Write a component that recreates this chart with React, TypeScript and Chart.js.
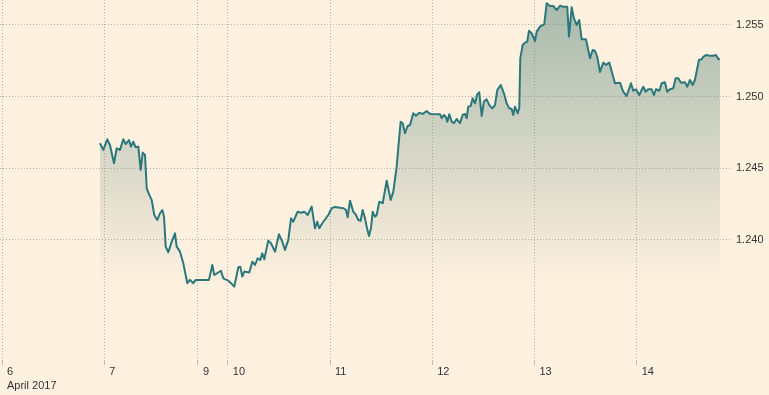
import React, { useEffect, useRef } from "react";
import { Chart, registerables } from "chart.js";

Chart.register(...registerables);

// Trading hours since 6 April 2017 00:00 (weekend closure removed)
const hours = [
  23.0, 23.78, 24.72, 25.35, 26.29, 26.92, 27.7, 28.47, 29.04, 29.81,
  30.28, 30.82, 31.38, 32.0, 32.56, 33.03, 33.57, 33.97, 34.58, 35.14,
  35.75, 36.46, 37.09, 37.63, 38.03, 38.43, 39.04, 39.84, 40.61, 41.01,
  41.78, 42.56, 43.5, 44.13, 44.91, 45.47, 48.59, 49.37, 49.84, 51.41,
  51.95, 53.12, 53.76, 54.53, 55.47, 55.94, 56.41, 56.88, 58.05, 58.76,
  59.39, 60.02, 60.63, 61.1, 61.57, 62.51, 63.14, 64.08, 65.02, 65.8,
  66.43, 67.21, 67.84, 68.38, 69.41, 70.19, 70.96, 71.76, 72.7, 73.47,
  74.01, 74.48, 75.19, 76.6, 77.39, 78.17, 80.12, 80.75, 81.15, 81.69,
  82.46, 83.1, 83.64, 84.2, 84.67, 85.21, 85.61, 86.15, 86.62, 87.02,
  87.56, 87.96, 88.57, 89.37, 90.31, 91.24, 91.86, 92.65, 93.19, 93.59,
  94.06, 94.6, 95.23, 95.77, 96.55, 97.18, 97.96, 98.76, 99.69, 100.47,
  102.82, 103.22, 103.75, 104.22, 104.53, 105.0, 105.56, 106.1, 106.74, 107.51,
  108.14, 108.68, 109.08, 109.46, 110.02, 110.49, 111.03, 111.57, 112.04, 112.61,
  113.14, 113.78, 114.39, 115.09, 115.73, 116.27, 117.07, 117.84, 118.47, 119.08,
  119.65, 120.02, 120.42, 121.06, 121.43, 121.67, 122.23, 122.77, 123.31, 123.71,
  124.34, 125.12, 125.52, 126.29, 127.3, 127.86, 128.64, 129.41, 130.21, 130.98,
  131.76, 132.7, 133.1, 133.73, 134.27, 134.9, 135.51, 136.08, 137.08, 138.03,
  138.66, 139.2, 139.74, 140.37, 141.15, 141.78, 142.56, 143.9, 145.07, 145.84,
  146.64, 147.65, 148.19, 148.83, 149.6, 150.54, 151.1, 151.72, 152.51, 153.05,
  153.52, 154.3, 154.86, 155.63, 156.17, 156.81, 157.58, 158.14, 158.76, 159.39,
  160.33, 160.87, 161.5, 162.13, 162.67, 163.61, 164.25, 164.62, 165.26, 166.19,
  166.97, 167.6, 168.15, 168.54,
];

// Price series
const prices = [
  1.24674, 1.24628, 1.24702, 1.24662, 1.24535, 1.24639, 1.24628, 1.24702, 1.24669, 1.24697,
  1.24651, 1.24685, 1.24646, 1.24651, 1.24488, 1.24609, 1.24593, 1.2436, 1.24314, 1.24279,
  1.24174, 1.24139, 1.24186, 1.24209, 1.24162, 1.23953, 1.23914, 1.23988, 1.24046, 1.23953,
  1.23918, 1.23837, 1.23698, 1.23721, 1.23698, 1.23721, 1.23721, 1.23825, 1.23755, 1.23785,
  1.23732, 1.23716, 1.23698, 1.23674, 1.23809, 1.23813, 1.23744, 1.23779, 1.23772, 1.23848,
  1.23825, 1.23872, 1.2386, 1.23907, 1.23865, 1.23995, 1.23977, 1.23918, 1.24039, 1.23988,
  1.2393, 1.24, 1.24151, 1.24127, 1.24197, 1.2419, 1.24197, 1.24174, 1.24232, 1.24081,
  1.24127, 1.24081, 1.24116, 1.24174, 1.24221, 1.2423, 1.24221, 1.24209, 1.24158, 1.24274,
  1.24197, 1.24174, 1.24139, 1.24134, 1.24209, 1.24151, 1.24092, 1.24028, 1.24081, 1.24197,
  1.24162, 1.24174, 1.24267, 1.24256, 1.24413, 1.24279, 1.24337, 1.24511, 1.24697, 1.24825,
  1.24814, 1.24744, 1.24795, 1.24802, 1.24884, 1.24867, 1.24888, 1.24879, 1.249, 1.24879,
  1.24877, 1.24849, 1.24872, 1.24856, 1.24825, 1.24877, 1.24825, 1.24814, 1.24844, 1.24814,
  1.24872, 1.24879, 1.24849, 1.2493, 1.24935, 1.24988, 1.24953, 1.25016, 1.2503, 1.24865,
  1.24965, 1.24981, 1.24941, 1.24918, 1.24941, 1.25046, 1.25081, 1.25023, 1.24953, 1.24918,
  1.24914, 1.24872, 1.2493, 1.24884, 1.24921, 1.25267, 1.2536, 1.25376, 1.25383, 1.2546,
  1.25442, 1.25388, 1.25453, 1.25488, 1.25505, 1.25651, 1.25632, 1.25632, 1.25604, 1.25634,
  1.25627, 1.25627, 1.25418, 1.25623, 1.25546, 1.255, 1.25534, 1.254, 1.254, 1.25267,
  1.25325, 1.2532, 1.25278, 1.25172, 1.25237, 1.25221, 1.25237, 1.25093, 1.25097, 1.25034,
  1.25004, 1.25093, 1.25041, 1.25051, 1.25011, 1.25069, 1.25034, 1.25051, 1.25051, 1.25011,
  1.25051, 1.25041, 1.25093, 1.251, 1.25034, 1.25051, 1.25058, 1.25128, 1.25128, 1.25097,
  1.251, 1.25069, 1.25116, 1.25081, 1.25116, 1.25255, 1.2526, 1.25278, 1.2529, 1.25285,
  1.25285, 1.2529, 1.25262, 1.2526,
];

const xTickHours = [0, 24, 46, 53, 77, 101, 125, 149];
const xTickLabels = ["6", "7", "9", "10", "11", "12", "13", "14"];
const monthLabel = "April 2017";
const yTickValues = [1.24, 1.245, 1.25, 1.255];

const X_MIN = -0.47;
const X_MAX = 170.9;
const Y_MIN = 1.23162;
const Y_MAX = 1.25674;

const BG = "#FFF1E0";
const LINE = "#2a787c";
const GRID = "#b8b0a5";
const TEXT = "#333333";
const FONT = { family: "'Liberation Sans', Arial, sans-serif", size: 11, lineHeight: 1.3 };

export default function App() {
  const ref = useRef<HTMLCanvasElement>(null);

  useEffect(() => {
    const canvas = ref.current;
    if (!canvas) return;
    const chart = new Chart(canvas, {
      type: "line",
      data: {
        datasets: [
          {
            data: hours.map((h, i) => ({ x: h, y: prices[i] })),
            borderColor: LINE,
            borderWidth: 2,
            borderJoinStyle: "round",
            pointRadius: 0,
            tension: 0,
            fill: "start",
            backgroundColor: (ctx: any) => {
              const { chart: ch } = ctx;
              const area = ch.chartArea;
              if (!area) return "transparent";
              const g = ch.ctx.createLinearGradient(0, area.top, 0, area.top + area.height * 0.8);
              g.addColorStop(0, "rgba(95,140,128,0.55)");
              g.addColorStop(1, "rgba(95,140,128,0)");
              return g;
            },
          },
        ],
      },
      options: {
        responsive: false,
        animation: false,
        devicePixelRatio: 1,
        layout: { padding: 0 },
        plugins: { legend: { display: false }, tooltip: { enabled: false } },
        scales: {
          x: {
            type: "linear",
            min: X_MIN,
            max: X_MAX,
            afterBuildTicks: (scale: any) => {
              scale.ticks = xTickHours.map((v) => ({ value: v }));
            },
            afterFit: (scale: any) => {
              scale.height = 35;
              scale.paddingLeft = 0;
              scale.paddingRight = 0;
            },
            border: { display: false, dash: [1, 2] },
            grid: {
              color: GRID,
              drawTicks: true,
              tickLength: 5,
              tickBorderDash: [],
              tickColor: "#c2bab0",
            },
            ticks: {
              autoSkip: false,
              maxRotation: 0,
              minRotation: 0,
              align: "start",
              labelOffset: 5,
              padding: 0,
              color: TEXT,
              font: FONT,
              callback: (_v: any, i: number) =>
                i === 0 ? [xTickLabels[i], monthLabel] : xTickLabels[i],
            },
          },
          y: {
            type: "linear",
            position: "right",
            min: Y_MIN,
            max: Y_MAX,
            afterBuildTicks: (scale: any) => {
              scale.ticks = yTickValues.map((v) => ({ value: v }));
            },
            afterFit: (scale: any) => {
              scale.width = 39;
              scale.paddingTop = 0;
              scale.paddingBottom = 0;
            },
            border: { display: false, dash: [1, 2] },
            grid: {
              color: GRID,
              drawTicks: false,
            },
            ticks: {
              padding: 6,
              color: TEXT,
              font: FONT,
              callback: (v: any) => Number(v).toFixed(3),
            },
          },
        },
      },
    });
    return () => chart.destroy();
  }, []);

  return (
    <div
      style={{
        position: "fixed",
        left: 0,
        top: 0,
        width: 769,
        height: 395,
        background: BG,
      }}
    >
      <canvas ref={ref} width={769} height={395} style={{ display: "block" }} />
    </div>
  );
}
